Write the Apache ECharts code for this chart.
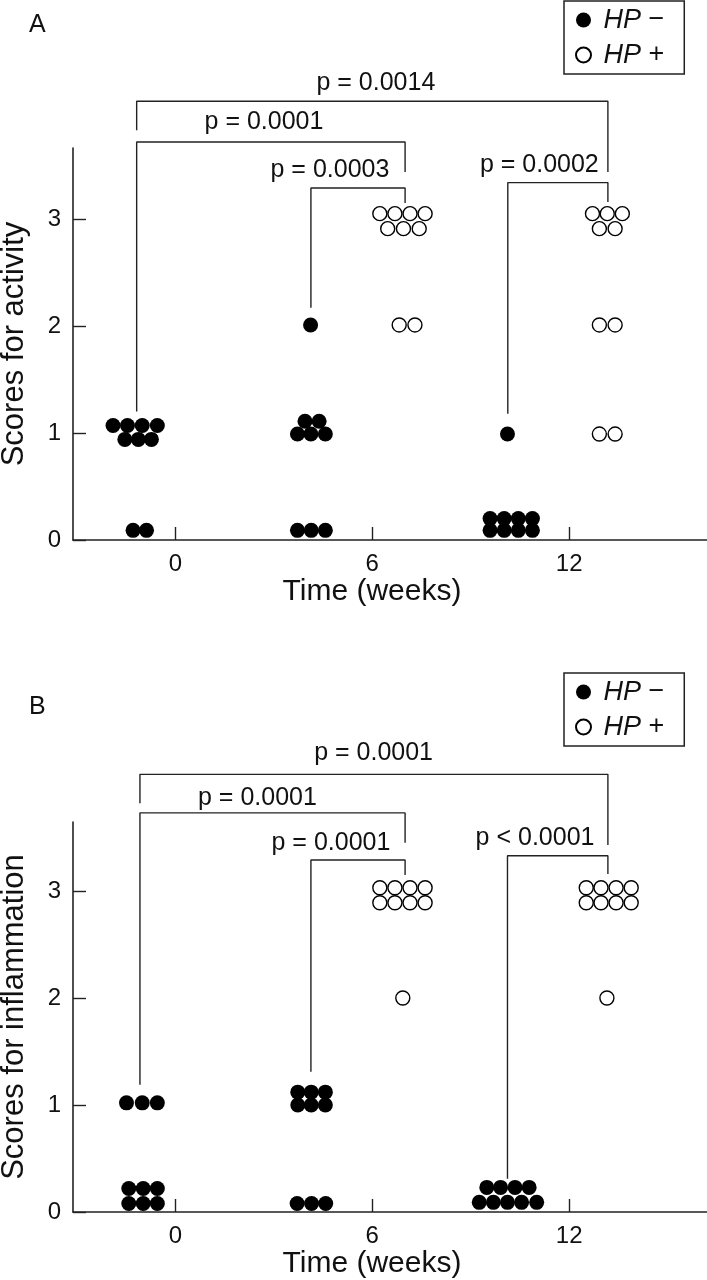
<!DOCTYPE html>
<html>
<head>
<meta charset="utf-8">
<script src="https://cdn.jsdelivr.net/npm/echarts@6/dist/echarts.min.js"></script>
<style>
html,body{margin:0;padding:0;background:#fff;}
#c{width:707px;height:1280px;}
</style>
</head>
<body>
<div id="c"></div>
<script>
// ---- data (x = time position in weeks incl. dot-plot spread, y = score) ----
const timeTicks = [0, 6, 12];
const scoreTicks = [0, 1, 2, 3];
const seriesNames = ['HP−', 'HP+'];

// Panel A: scores for activity
const activityNeg = [
  [-1.90, 1.07], [-1.46, 1.07], [-1.01, 1.07], [-0.55, 1.07],
  [-1.54, 0.94], [-1.13, 0.94], [-0.73, 0.94],
  [-1.29, 0.09], [-0.88, 0.09],
  [4.12, 2.01],
  [3.95, 1.11], [4.38, 1.11],
  [3.72, 0.99], [4.13, 0.99], [4.57, 0.99],
  [3.72, 0.09], [4.14, 0.09], [4.57, 0.09],
  [10.12, 0.99],
  [9.59, 0.20], [10.02, 0.20], [10.45, 0.20], [10.88, 0.20],
  [9.59, 0.09], [10.02, 0.09], [10.45, 0.09], [10.88, 0.09]
];
const activityPos = [
  [6.23, 3.05], [6.69, 3.05], [7.15, 3.05], [7.61, 3.05],
  [6.47, 2.91], [6.95, 2.91], [7.43, 2.91],
  [6.82, 2.01], [7.30, 2.01],
  [12.71, 3.05], [13.16, 3.05], [13.62, 3.05],
  [12.92, 2.91], [13.40, 2.91],
  [12.92, 2.01], [13.40, 2.01],
  [12.92, 0.99], [13.40, 0.99]
];

// Panel B: scores for inflammation
const inflammationNeg = [
  [-1.49, 1.02], [-1.01, 1.02], [-0.55, 1.02],
  [-1.42, 0.22], [-0.98, 0.22], [-0.55, 0.22],
  [-1.42, 0.08], [-0.98, 0.08], [-0.55, 0.08],
  [3.73, 1.12], [4.14, 1.12], [4.57, 1.12],
  [3.73, 1.00], [4.14, 1.00], [4.57, 1.00],
  [3.71, 0.08], [4.15, 0.08], [4.58, 0.08],
  [9.49, 0.23], [9.91, 0.23], [10.35, 0.23], [10.78, 0.23],
  [9.26, 0.09], [9.69, 0.09], [10.12, 0.09], [10.55, 0.09], [11.01, 0.09]
];
const inflammationPos = [
  [6.23, 3.03], [6.69, 3.03], [7.15, 3.03], [7.61, 3.03],
  [6.23, 2.89], [6.69, 2.89], [7.15, 2.89], [7.61, 2.89],
  [6.93, 2.00],
  [12.52, 3.03], [12.97, 3.03], [13.43, 3.03], [13.89, 3.03],
  [12.52, 2.89], [12.97, 2.89], [13.43, 2.89], [13.89, 2.89],
  [13.15, 2.00]
];

// p-value labels
const activityPLabels = ['p = 0.0014', 'p = 0.0001', 'p = 0.0003', 'p = 0.0002'];
const inflammationPLabels = ['p = 0.0001', 'p = 0.0001', 'p = 0.0001', 'p < 0.0001'];

// ---- annotation layout (axis units): bracket ends, bar height, leg ends, label anchor ----
const activityBrackets = [
  {x1: -1.18, x2: 13.18, top: 4.10, yl: 3.83, yr: 3.44, lx: 6.11, ly: 4.27},
  {x1: -1.18, x2: 7.00, top: 3.72, yl: 1.20, yr: 3.44, lx: 2.70, ly: 3.91},
  {x1: 4.13, x2: 7.00, top: 3.29, yl: 2.17, yr: 3.15, lx: 4.71, ly: 3.46},
  {x1: 10.13, x2: 13.18, top: 3.34, yl: 1.18, yr: 3.16, lx: 11.09, ly: 3.50}
];
const inflammationBrackets = [
  {x1: -1.08, x2: 13.18, top: 4.09, yl: 3.82, yr: 3.43, lx: 6.04, ly: 4.29},
  {x1: -1.08, x2: 7.00, top: 3.73, yl: 1.19, yr: 3.45, lx: 2.50, ly: 3.87},
  {x1: 4.13, x2: 7.00, top: 3.29, yl: 1.31, yr: 3.15, lx: 4.74, ly: 3.45},
  {x1: 10.12, x2: 13.18, top: 3.33, yl: 0.31, yr: 3.16, lx: 10.96, ly: 3.49}
];

// ---- styling ----
const FONT = '"Liberation Sans", Arial, Helvetica, sans-serif';
const INK = '#111';
const LINE = '#222';

function xAxisFor(gi) {
  return {
    gridIndex: gi, type: 'value', min: -3.12, max: 16.2,
    name: 'Time (weeks)', nameLocation: 'middle', nameGap: 33,
    nameTextStyle: {fontFamily: FONT, fontSize: 30, color: INK, padding: [0, 36, 0, 0]},
    axisLine: {show: true, onZero: false, lineStyle: {color: LINE, width: 1.6}},
    axisTick: {show: true, inside: true, length: 13, customValues: timeTicks, lineStyle: {color: LINE, width: 1.4}},
    axisLabel: {show: true, customValues: timeTicks, margin: 12, fontFamily: FONT, fontSize: 24, color: INK},
    splitLine: {show: false}
  };
}
function yAxisFor(gi, name, max) {
  return {
    gridIndex: gi, type: 'value', min: 0, max: max,
    name: name, nameLocation: 'middle', nameGap: 43,
    nameTextStyle: {fontFamily: FONT, fontSize: 31, color: INK},
    axisLine: {show: true, onZero: false, lineStyle: {color: LINE, width: 1.6}},
    axisTick: {show: true, inside: true, length: 13, customValues: scoreTicks, lineStyle: {color: LINE, width: 1.4}},
    axisLabel: {show: true, customValues: scoreTicks, margin: 12, fontFamily: FONT, fontSize: 24, color: INK},
    splitLine: {show: false}
  };
}
function dotSeries(name, data, gi, filled) {
  return {
    type: 'scatter', name: name, xAxisIndex: gi, yAxisIndex: gi, data: data,
    symbol: 'circle', symbolSize: filled ? 15 : 14, clip: false, z: 5,
    itemStyle: filled
      ? {color: '#000', borderWidth: 0, opacity: 1}
      : {color: 'rgba(255,255,255,0)', borderColor: '#000', borderWidth: 1.4, opacity: 1},
    emphasis: {disabled: true}
  };
}
function bracketSeries(brackets, gi) {
  return brackets.map(b => ({
    type: 'line', xAxisIndex: gi, yAxisIndex: gi, clip: false, silent: true,
    symbol: 'none', z: 3,
    lineStyle: {color: LINE, width: 1.4, opacity: 1},
    data: [[b.x1, b.yl], [b.x1, b.top], [b.x2, b.top], [b.x2, b.yr]]
  }));
}
function labelSeries(brackets, labels, gi) {
  return {
    type: 'scatter', xAxisIndex: gi, yAxisIndex: gi, clip: false, silent: true,
    symbolSize: 0, z: 4, itemStyle: {opacity: 1},
    label: {show: true, position: 'inside', formatter: p => p.name,
            fontFamily: FONT, fontSize: 25, color: INK, opacity: 1},
    data: brackets.map((b, i) => ({name: labels[i], value: [b.lx, b.ly]}))
  };
}
function legendFor(top) {
  return {
    orient: 'vertical', left: 564, top: top,
    data: seriesNames,
    itemWidth: 30, itemHeight: 15, itemGap: 5,
    padding: [4, 20, 4, 11],
    borderColor: LINE, borderWidth: 1.5,
    selectedMode: false,
    formatter: n => '{i|HP} ' + (n === 'HP−' ? '−' : '+'),
    textStyle: {fontFamily: FONT, fontSize: 27, color: INK, lineHeight: 30,
      rich: {i: {fontStyle: 'italic', fontFamily: FONT, fontSize: 27, color: INK, lineHeight: 30}}}
  };
}

const option = {
  backgroundColor: '#fff',
  animation: false,
  title: [
    {text: 'A', left: 24, top: 8, textStyle: {fontFamily: FONT, fontSize: 25, fontWeight: 'normal', color: INK}},
    {text: 'B', left: 24, top: 690, textStyle: {fontFamily: FONT, fontSize: 25, fontWeight: 'normal', color: INK}}
  ],
  legend: [legendFor(1), legendFor(673)],
  grid: [
    {left: 73, right: 0, top: 148, height: 392, outerBoundsMode: 'none', containLabel: false},
    {left: 73, right: 0, top: 822, height: 390, outerBoundsMode: 'none', containLabel: false}
  ],
  xAxis: [xAxisFor(0), xAxisFor(1)],
  yAxis: [yAxisFor(0, 'Scores for activity', 392 / 107), yAxisFor(1, 'Scores for inflammation', 390 / 107)],
  series: [
    dotSeries('HP−', activityNeg, 0, true),
    dotSeries('HP+', activityPos, 0, false),
    dotSeries('HP−', inflammationNeg, 1, true),
    dotSeries('HP+', inflammationPos, 1, false),
    ...bracketSeries(activityBrackets, 0),
    ...bracketSeries(inflammationBrackets, 1),
    labelSeries(activityBrackets, activityPLabels, 0),
    labelSeries(inflammationBrackets, inflammationPLabels, 1)
  ]
};

const chart = echarts.init(document.getElementById('c'), null, {renderer: 'canvas'});
chart.setOption(option);
</script>
</body>
</html>
